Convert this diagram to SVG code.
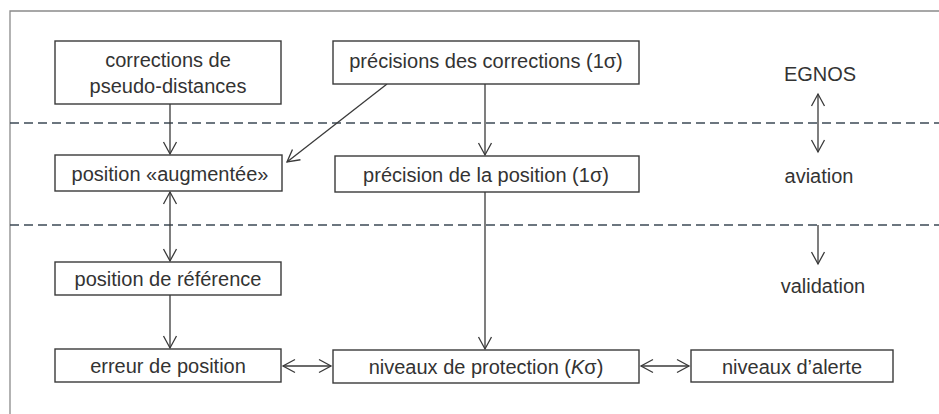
<svg xmlns="http://www.w3.org/2000/svg" width="939" height="414" viewBox="0 0 939 414">
<style>
.box{fill:#fff;stroke:#3a3a3a;stroke-width:1.4}
.t{font-family:"Liberation Sans",Arial,sans-serif;font-size:20px;fill:#333;text-anchor:middle}
.c{stroke:#3a3a3a;stroke-width:1.3;fill:none}
.d{stroke:#3d4a55;stroke-width:1.3;stroke-dasharray:9 5;fill:none}
</style>
<defs>
<marker id="ah" viewBox="-13 -8 15 16" refX="0" refY="0" markerWidth="15" markerHeight="16" markerUnits="userSpaceOnUse" orient="auto-start-reverse">
<path d="M-12,-6.5 L0,0 L-12,6.5" fill="none" stroke="#3a3a3a" stroke-width="1.3"/>
</marker>
</defs>
<rect x="0" y="0" width="939" height="414" fill="#fff"/>
<path d="M10,414 V11 H939" fill="none" stroke="#8a8a8a" stroke-width="1.3"/>
<g id="bands">
<line class="d" x1="10" y1="123" x2="939" y2="123"/>
<line class="d" x1="10" y1="225" x2="939" y2="225"/>
<text class="t" x="820" y="81">EGNOS</text>
<text class="t" x="819" y="183">aviation</text>
<text class="t" x="823" y="293">validation</text>
</g>
<g id="connectors">
<line class="c" x1="170" y1="104" x2="170" y2="154" marker-end="url(#ah)"/>
<line class="c" x1="387" y1="84" x2="287" y2="162" marker-end="url(#ah)"/>
<line class="c" x1="485" y1="84" x2="485" y2="155" marker-end="url(#ah)"/>
<line class="c" x1="170" y1="192" x2="170" y2="261" marker-start="url(#ah)" marker-end="url(#ah)"/>
<line class="c" x1="485" y1="192" x2="485" y2="349" marker-end="url(#ah)"/>
<line class="c" x1="170" y1="295" x2="170" y2="348" marker-end="url(#ah)"/>
<line class="c" x1="283" y1="366" x2="331" y2="366" marker-start="url(#ah)" marker-end="url(#ah)"/>
<line class="c" x1="641" y1="366" x2="689" y2="366" marker-start="url(#ah)" marker-end="url(#ah)"/>
<line class="c" x1="818" y1="94" x2="818" y2="152" marker-start="url(#ah)" marker-end="url(#ah)"/>
<line class="c" x1="818" y1="225" x2="818" y2="264" marker-end="url(#ah)"/>
</g>
<g id="n1"><rect class="box" x="55" y="41" width="226" height="63"/><text class="t" x="168" y="67">corrections de</text><text class="t" x="168" y="93">pseudo-distances</text></g>
<g id="n2"><rect class="box" x="333" y="41" width="306" height="43"/><text class="t" x="486" y="68">précisions des corrections (1σ)</text></g>
<g id="n3"><rect class="box" x="55" y="155" width="227" height="36"/><text class="t" x="170" y="181">position «augmentée»</text></g>
<g id="n4"><rect class="box" x="335" y="156" width="304" height="36"/><text class="t" x="486" y="182">précision de la position (1σ)</text></g>
<g id="n5"><rect class="box" x="55" y="262" width="226" height="33"/><text class="t" x="168" y="286">position de référence</text></g>
<g id="n6"><rect class="box" x="55" y="349" width="226" height="33"/><text class="t" x="168" y="373">erreur de position</text></g>
<g id="n7"><rect class="box" x="333" y="350" width="306" height="33"/><text class="t" x="486" y="374">niveaux de protection (<tspan font-style="italic">K</tspan>σ)</text></g>
<g id="n8"><rect class="box" x="691" y="350" width="202" height="32"/><text class="t" x="792" y="374">niveaux d’alerte</text></g>
</svg>
